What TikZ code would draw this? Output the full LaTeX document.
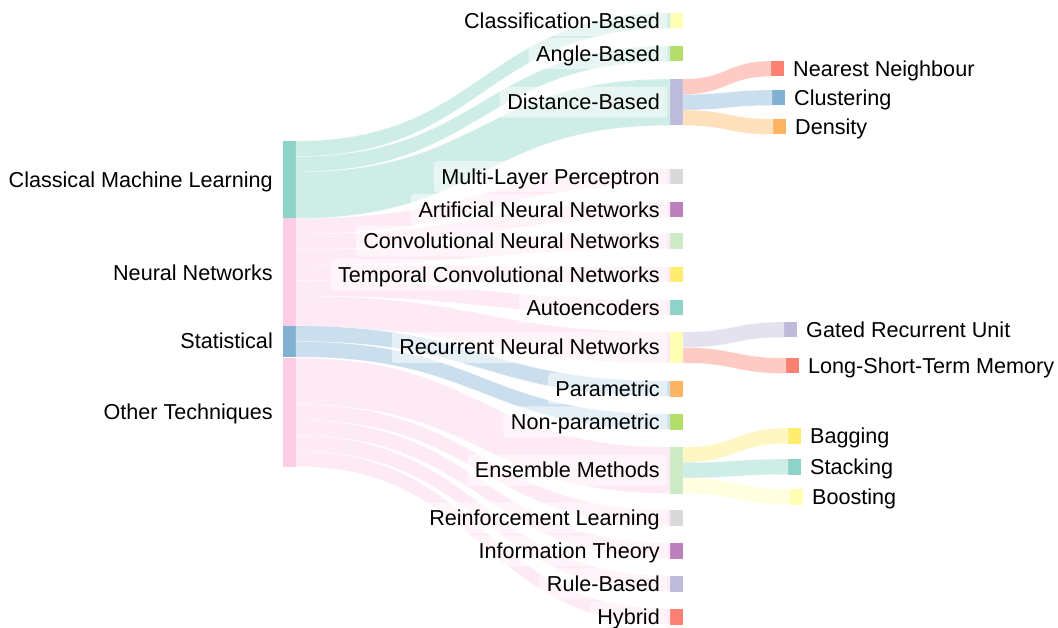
\documentclass[tikz,border=0pt]{standalone}
\usepackage{fontspec}
\setmainfont{Liberation Sans}
\usetikzlibrary{positioning,calc}

\definecolor{cTeal}{HTML}{8DD3C7}
\definecolor{cPale}{HTML}{FFFFB3}
\definecolor{cLav}{HTML}{BEBADA}
\definecolor{cSalm}{HTML}{FB8072}
\definecolor{cBlue}{HTML}{80B1D3}
\definecolor{cOrng}{HTML}{FDB462}
\definecolor{cGrn}{HTML}{B3DE69}
\definecolor{cPink}{HTML}{FCCDE5}
\definecolor{cGray}{HTML}{D9D9D9}
\definecolor{cPurp}{HTML}{BC80BD}
\definecolor{cLGrn}{HTML}{CCEBC5}
\definecolor{cYel}{HTML}{FFED6F}

\tikzset{
  sbar/.style={draw=none, inner sep=0pt, outer sep=0pt, anchor=north west,
    minimum width=13pt, minimum height=#1*15.5pt},
  lbl/.style={fill=white, fill opacity=.5, text opacity=1, rounded corners=3pt,
    inner xsep=7.5pt, inner ysep=5pt, text height=18pt, text depth=3pt,
    font=\fontsize{21.6}{24}\selectfont}
}

% band from #1 (offset #2) to the top of #3, #4 units thick
\newcommand{\sband}[5]{%
  \fill[#5, fill opacity=.42, draw=white, draw opacity=.7, line width=.35pt]
    let \p1=(#1.north east), \p2=(#3.north west), \p3=($(\p1)!.5!(\p2)$) in
    (\x1,{\y1-#2*15.5pt}) .. controls (\x3,{\y1-#2*15.5pt}) and (\x3,\y2) .. (\p2)
    -- (\x2,{\y2-#4*15.5pt}) .. controls (\x3,{\y2-#4*15.5pt}) and (\x3,{\y1-(#2+#4)*15.5pt}) .. (\x1,{\y1-(#2+#4)*15.5pt}) -- cycle;}

\begin{document}
\begin{tikzpicture}[x=1pt,y=-1pt]
  \useasboundingbox (0,0) rectangle (1058,628);

  % level 0
  \node[sbar=5, fill=cTeal] (cml) at (283,141) {};
  \node[sbar=7, fill=cPink] (nn) at (283,218.5) {};
  \node[sbar=2, fill=cBlue] (stat) at (283,326) {};
  \node[sbar=7, fill=cPink] (other) at (283,358) {};

  % level 1
  \node[sbar=1, fill=cPale] (clsb) at (670,13) {};
  \node[sbar=1, fill=cGrn] (angb) at (670,46) {};
  \node[sbar=3, fill=cLav] (distb) at (670,79) {};
  \node[sbar=1, fill=cGray] (mlp) at (670,169) {};
  \node[sbar=1, fill=cPurp] (ann) at (670,202) {};
  \node[sbar=1, fill=cLGrn] (cnn) at (670,233.5) {};
  \node[sbar=1, fill=cYel] (tcn) at (670,267) {};
  \node[sbar=1, fill=cTeal] (ae) at (670,300) {};
  \node[sbar=2, fill=cPale] (rnn) at (670,332) {};
  \node[sbar=1, fill=cOrng] (param) at (670,381) {};
  \node[sbar=1, fill=cGrn] (nonparam) at (670,414) {};
  \node[sbar=3, fill=cLGrn] (ens) at (670,447) {};
  \node[sbar=1, fill=cGray] (rl) at (670,510) {};
  \node[sbar=1, fill=cPurp] (it) at (670,543) {};
  \node[sbar=1, fill=cLav] (rb) at (670,576) {};
  \node[sbar=1, fill=cSalm] (hyb) at (670,609) {};

  % level 2
  \node[sbar=1, fill=cSalm] (knn) at (771,61) {};
  \node[sbar=1, fill=cBlue] (clus) at (772,90) {};
  \node[sbar=1, fill=cOrng] (dens) at (773,119) {};
  \node[sbar=1, fill=cLav] (gru) at (784,322) {};
  \node[sbar=1, fill=cSalm] (lstm) at (786,358) {};
  \node[sbar=1, fill=cYel] (bag) at (788,428) {};
  \node[sbar=1, fill=cTeal] (stack) at (788,459) {};
  \node[sbar=1, fill=cPale] (boost) at (790,489) {};

  % flows
  \foreach \s/\o/\t/\w/\c in {cml/0/clsb/1/cTeal, cml/1/angb/1/cTeal, cml/2/distb/3/cTeal,
      nn/0/mlp/1/cPink, nn/1/ann/1/cPink, nn/2/cnn/1/cPink, nn/3/tcn/1/cPink,
      nn/4/ae/1/cPink, nn/5/rnn/2/cPink,
      stat/0/param/1/cBlue, stat/1/nonparam/1/cBlue,
      other/0/ens/3/cPink, other/3/rl/1/cPink, other/4/it/1/cPink,
      other/5/rb/1/cPink, other/6/hyb/1/cPink,
      distb/0/knn/1/cSalm, distb/1/clus/1/cBlue, distb/2/dens/1/cOrng,
      rnn/0/gru/1/cLav, rnn/1/lstm/1/cSalm,
      ens/0/bag/1/cYel, ens/1/stack/1/cTeal, ens/2/boost/1/cPale}
    {\sband{\s}{\o}{\t}{\w}{\c}}

  % labels
  \node[lbl, left=2.5pt of cml] {Classical Machine Learning};
  \node[lbl, left=2.5pt of nn] {Neural Networks};
  \node[lbl, left=2.5pt of stat] {Statistical};
  \node[lbl, left=2.5pt of other] {Other Techniques};

  \node[lbl, left=2.5pt of clsb] {Classification-Based};
  \node[lbl, left=2.5pt of angb] {Angle-Based};
  \node[lbl, left=2.5pt of distb] {Distance-Based};
  \node[lbl, left=2.5pt of mlp] {Multi-Layer Perceptron};
  \node[lbl, left=2.5pt of ann] {Artificial Neural Networks};
  \node[lbl, left=2.5pt of cnn] {Convolutional Neural Networks};
  \node[lbl, left=2.5pt of tcn] {Temporal Convolutional Networks};
  \node[lbl, left=2.5pt of ae] {Autoencoders};
  \node[lbl, left=2.5pt of rnn] {Recurrent Neural Networks};
  \node[lbl, left=2.5pt of param] {Parametric};
  \node[lbl, left=2.5pt of nonparam] {Non-parametric};
  \node[lbl, left=2.5pt of ens] {Ensemble Methods};
  \node[lbl, left=2.5pt of rl] {Reinforcement Learning};
  \node[lbl, left=2.5pt of it] {Information Theory};
  \node[lbl, left=2.5pt of rb] {Rule-Based};
  \node[lbl, left=2.5pt of hyb] {Hybrid};

  \node[lbl, right=1.5pt of knn] {Nearest Neighbour};
  \node[lbl, right=1.5pt of clus] {Clustering};
  \node[lbl, right=1.5pt of dens] {Density};
  \node[lbl, right=1.5pt of gru] {Gated Recurrent Unit};
  \node[lbl, right=1.5pt of lstm] {Long-Short-Term Memory};
  \node[lbl, right=1.5pt of bag] {Bagging};
  \node[lbl, right=1.5pt of stack] {Stacking};
  \node[lbl, right=1.5pt of boost] {Boosting};

\end{tikzpicture}
\end{document}
